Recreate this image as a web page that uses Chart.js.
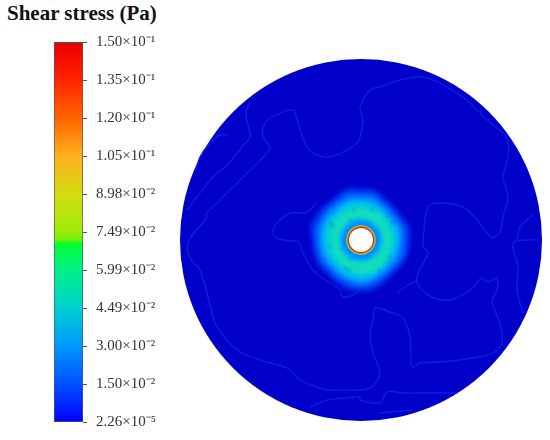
<!DOCTYPE html>
<html>
<head>
<meta charset="utf-8">
<script src="https://cdn.jsdelivr.net/npm/chart.js@4"></script>
<style>
    body { margin: 0; background: #fff; }
    #title { position: absolute; left: 7px; top: 1px; font: bold 21px "Liberation Serif", serif; color: #111; white-space: nowrap; }
    #bar { position: absolute; left: 0; top: 0; }
    .layer { position: absolute; left: 171px; top: 50px; }
    #disc { filter: blur(0.5px); }
    #blob { filter: blur(1.4px); }
    #hole { filter: blur(0.5px); }
</style>
</head>
<body>
<div id="title">Shear stress (Pa)</div>
<canvas id="bar" width="170" height="440"></canvas>
<canvas id="disc" class="layer" width="380" height="380"></canvas>
<canvas id="blob" class="layer" width="380" height="380"></canvas>
<canvas id="hole" class="layer" width="380" height="380"></canvas>
<script>
// colour scale
const scaleMin = 2.26e-5;
const scaleMax = 0.15;
const tickValues = [0.15, 0.135, 0.12, 0.105, 0.0898, 0.0749, 0.0599, 0.0449, 0.03, 0.015, 2.26e-5];
const tickLabels = ['1.50×10⁻¹', '1.35×10⁻¹', '1.20×10⁻¹', '1.05×10⁻¹', '8.98×10⁻²', '7.49×10⁻²', '5.99×10⁻²', '4.49×10⁻²', '3.00×10⁻²', '1.50×10⁻²', '2.26×10⁻⁵'];
const stopValues = [2.26e-5, 0.015, 0.03, 0.0449, 0.0599, 0.0705, 0.0718, 0.0749, 0.0898, 0.105, 0.12, 0.135, 0.1485, 0.15];
const stopColors = ['#0000ff', '#0050ff', '#0098ff', '#00d0d0', '#00f088', '#00ff30', '#70f010', '#9cec08', '#d4dc10', '#ffb020', '#ff6400', '#ff2400', '#f00000', '#a02020'];

// disc, in mm from the centre of the disc
const discRadius = 181;
const discColor = '#0000c8';

// contour lines
const contourA = [[-174,30],[-164,43],[-148,63],[-134,75],[-119,93],[-111,103],[-113,115],[-115,128],[-111,138]];
const contourB = [[-134,105],[-141,105],[-151,97],[-161,83],[-165,70]];
const contourC = [[-171,3],[-156,20],[-154,27],[-144,37],[-128,53],[-111,70],[-91,92],[-98,103],[-98,112],[-91,122],[-68,130],[-63,117],[-56,97],[-48,87],[-31,83],[-14,90],[-3,98],[-1,103],[2,120],[-1,133],[9,150],[19,153],[39,160],[62,163],[86,153],[109,137],[126,120],[146,102],[147,83],[142,63],[147,43],[142,23],[139,8],[131,2],[126,7],[116,20],[102,33],[79,37],[67,33],[62,0],[62,-7],[67,-13],[57,-33],[57,-45],[71,-57],[89,-60],[109,-50],[121,-38],[127,-42],[136,-38],[136,-50],[131,-62],[139,-83],[141,-103],[132,-113],[112,-118],[79,-122],[59,-123],[51,-127],[49,-97],[42,-78],[29,-72],[14,-68],[12,-80],[9,-93],[12,-113],[19,-133],[11,-147],[-1,-150],[-14,-150],[-33,-150],[-44,-147],[-61,-140],[-74,-128],[-94,-122],[-119,-113],[-134,-100],[-146,-83],[-153,-57],[-161,-30],[-171,-18],[-173,-3],[-166,8]];
const contourD = [[-51,-167],[-34,-160],[-14,-158],[-1,-157],[-1,-160],[19,-163],[26,-152],[42,-153],[69,-153],[96,-153]];
const contourE = [[19,-173],[52,-170]];
const contourF = [[-44,37],[-56,27],[-71,27],[-84,17],[-88,10],[-86,3],[-78,0],[-63,-2],[-58,-13],[-48,-30],[-31,-43],[-21,-50],[-19,-57],[-8,-55],[-1,-50]];
const contourG = [[36,-53],[44,-47],[57,-40]];
const contourH = [[177,0],[166,0],[152,-3],[157,-27],[156,-50],[162,-73]];
const contourI = [[156,0],[159,13],[172,25]];
const contours = [contourA, contourB, contourC, contourD, contourE, contourF, contourG, contourH, contourI];

// central blob: radius at evenly spaced angles, outermost first
const blobEdge1 = [51,52,49,49,50,54,53,55,52,52,53,54,51,51,51,50,51,53,53,53,50,49,50,51];
const blobEdge2 = [48,49,46,46,47,51,50,52,49,49,50,51,48,48,48,47,48,50,50,50,47,46,47,48];
const blobEdge3 = [44,45,43,43,44,47,46,48,46,46,46,47,45,45,45,44,45,46,47,46,44,43,44,45];
const blobEdge4 = [41,42,40,40,41,44,43,44,43,43,43,43,42,42,42,41,42,43,44,43,41,40,41,41];
const blobEdge5 = [38,39,37,37,38,40,40,41,40,39,40,40,39,39,39,38,39,40,41,40,38,37,38,38];
const blobEdge6 = [35,36,34,35,35,37,37,38,37,36,37,37,36,36,35,35,36,37,38,37,36,35,35,35];
const blobEdge7 = [33,33,33,34,35,34,34,33,33,35,35,33];
const blobEdge8 = [30,30,30,31,31,30,29,29,31,33,33,30];
const blobLevels = [blobEdge1, blobEdge2, blobEdge3, blobEdge4, blobEdge5, blobEdge6, blobEdge7, blobEdge8];
const blobColors = ['#0014dc', '#0038f0', '#0060ff', '#0088ff', '#00acfc', '#00c4e8', '#04d4d0', '#12dcbc'];

// rings round the hole, outermost first
const ringRadii = [24, 22, 20, 18, 16.5];
const ringColors = ['#08d8cc', '#00c0e8', '#00a0ff', '#0084ff', '#0090ff'];
const holeRadii = [15, 14.4, 13.9, 13.2, 12];
const holeColors = ['#00d0e0', '#a0e020', '#ff7800', '#e82810', '#ffffff'];

// dark spots inside the ring
const specks = [[-29,14],[-30,17],[-31,-7],[-19,-9],[-11,-19],[-16,-28],[-12,-30],[18,-30],[26,-22],[29,-17],[31,17],[26,25],[11,30],[-11,20],[-7,30]];

new Chart(document.getElementById('bar'), {
    type: 'bar',
    data: {
        labels: ['Shear stress'],
        datasets: [{
            data: [[scaleMin, scaleMax]],
            barPercentage: 1,
            categoryPercentage: 1,
            borderColor: '#555',
            borderWidth: 1,
            borderSkipped: false,
            backgroundColor: function(c) {
                const y = c.chart.scales.y;
                if (!c.chart.chartArea) return '#0000ff';
                const g = c.chart.ctx.createLinearGradient(0, y.getPixelForValue(scaleMin), 0, y.getPixelForValue(scaleMax));
                stopValues.forEach((v, i) => g.addColorStop((v - scaleMin) / (scaleMax - scaleMin), stopColors[i]));
                return g;
            }
        }]
    },
    options: {
        responsive: false,
        animation: false,
        layout: { autoPadding: false, padding: { left: 54, top: 42, bottom: 13 } },
        plugins: { legend: { display: false }, tooltip: { enabled: false } },
        scales: {
            x: { display: false },
            y: {
                position: 'right',
                min: scaleMin,
                max: scaleMax,
                afterBuildTicks: scale => { scale.ticks = tickValues.map(v => ({ value: v })); },
                afterFit: scale => { scale.width = 87; },
                border: { display: false },
                grid: { drawOnChartArea: false, tickLength: 4, color: '#555' },
                ticks: {
                    autoSkip: false,
                    padding: 9,
                    color: '#333',
                    font: { family: '"Liberation Serif"', size: 15 },
                    callback: (v, i) => tickLabels[i]
                }
            }
        }
    }
});

function toPoints(list) {
    return list.map(p => ({ x: p[0], y: p[1] }));
}

function blobPoints(radii) {
    const pts = radii.map((r, i) => {
        const a = i / radii.length * 2 * Math.PI;
        return { x: r * Math.cos(a), y: r * Math.sin(a) };
    });
    pts.push(pts[0]);
    return pts;
}

function circle(r, color) {
    return {
        data: [{ x: 0, y: 0 }],
        showLine: false,
        pointBackgroundColor: color,
        pointBorderWidth: 0,
        pointRadius: c => c.chart.scales.x.getPixelForValue(r) - c.chart.scales.x.getPixelForValue(0)
    };
}

function drawLayer(id, datasets) {
    // chart.js draws the first dataset on top, the lists here are in painter's order
    new Chart(document.getElementById(id), {
        type: 'scatter',
        data: { datasets: datasets.reverse() },
        options: {
            responsive: false,
            animation: false,
            layout: { autoPadding: false, padding: 0 },
            plugins: { legend: { display: false }, tooltip: { enabled: false } },
            scales: {
                x: { display: false, min: -190, max: 190 },
                y: { display: false, min: -190, max: 190 }
            }
        }
    });
}

const discSets = [circle(discRadius, discColor)];
contours.forEach(list => discSets.push({
    data: toPoints(list),
    showLine: true,
    borderColor: '#0a1ee4',
    borderWidth: 1.4,
    tension: 0.3,
    pointRadius: 0
}));
drawLayer('disc', discSets);

const blobSets = [];
blobLevels.forEach((radii, i) => blobSets.push({
    data: blobPoints(radii),
    showLine: true,
    fill: 'shape',
    backgroundColor: blobColors[i],
    borderWidth: 0,
    tension: 0.35,
    pointRadius: 0
}));
ringRadii.forEach((r, i) => blobSets.push(circle(r, ringColors[i])));
blobSets.push({
    data: toPoints(specks),
    showLine: false,
    pointBackgroundColor: 'rgba(0,100,130,0.6)',
    pointBorderWidth: 0,
    pointRadius: 1.2
});
drawLayer('blob', blobSets);

drawLayer('hole', holeRadii.map((r, i) => circle(r, holeColors[i])));
</script>
</body>
</html>
